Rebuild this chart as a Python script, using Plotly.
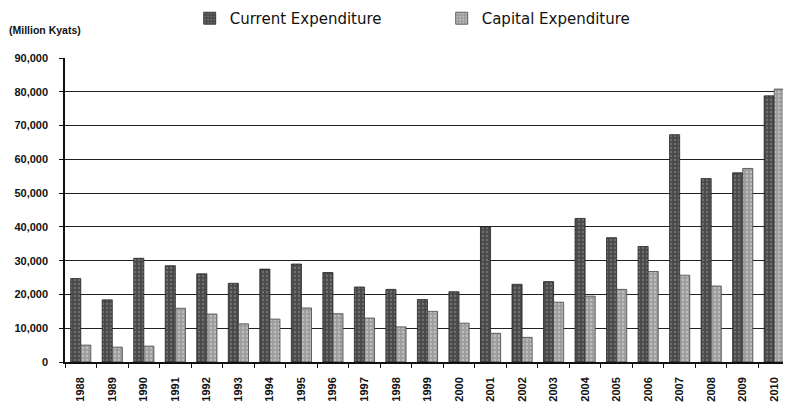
import plotly.graph_objects as go

years = [str(y) for y in range(1988, 2011)]
current_exp = [24700, 18400, 30700, 28500, 26100, 23300, 27500, 29000, 26500, 22200,
               21500, 18500, 20800, 40000, 23000, 23800, 42500, 36800, 34200, 67300,
               54300, 56000, 78800]
capital_exp = [5000, 4400, 4700, 15900, 14200, 11300, 12700, 16000, 14300, 13000,
               10400, 15000, 11500, 8500, 7300, 17700, 19500, 21500, 26800, 25700,
               22500, 57300, 80800]
y_ticks = [0, 10000, 20000, 30000, 40000, 50000, 60000, 70000, 80000, 90000]

fig = go.Figure()
fig.add_trace(go.Bar(
    x=years, y=current_exp, name="Current Expenditure",
    marker=dict(color="#4a4a4a", line=dict(color="#222", width=0.8),
                pattern=dict(shape=".", fgcolor="#9a9a9a", size=4, solidity=0.25)),
))
fig.add_trace(go.Bar(
    x=years, y=capital_exp, name="Capital Expenditure",
    marker=dict(color="#9c9c9c", line=dict(color="#444", width=0.8),
                pattern=dict(shape=".", fgcolor="#e0e0e0", size=4, solidity=0.3)),
))

fig.update_layout(
    width=791, height=409,
    margin=dict(l=57, r=9, t=50, b=55, autoexpand=False),
    paper_bgcolor="white", plot_bgcolor="white",
    barmode="group", bargap=0.36, bargroupgap=0.0,
    font=dict(family="Liberation Sans", color="#111"),
    legend=dict(orientation="h", x=0.172, xanchor="left", y=1.13, yref="paper",
                yanchor="middle", entrywidth=207,
                font=dict(family="DejaVu Sans", size=15, color="#111"),
                itemwidth=30),
    showlegend=True,
    annotations=[dict(text="<b>(Million Kyats)</b>", xref="paper", yref="paper",
                      x=-0.08, y=1.092, xanchor="left", yanchor="middle",
                      showarrow=False, font=dict(size=10.5, color="#111"))],
)

fig.update_xaxes(
    type="category", tickangle=-90, ticks="outside", tickson="boundaries",
    ticklen=4, tickcolor="#111", showline=True, linecolor="#111", linewidth=1.5,
    tickfont=dict(size=11, weight="bold", color="#111"), showgrid=False,
    ticklabelstandoff=9, automargin=False,
)
fig.update_yaxes(
    range=[0, 90000], tickvals=y_ticks, tickformat=",d", ticks="outside", ticklen=4,
    tickcolor="#111", showline=True, linecolor="#111", linewidth=1.5,
    showgrid=True, gridcolor="#222", gridwidth=1.2, ticklabelstandoff=9,
    tickfont=dict(size=11, weight="bold", color="#111"), zeroline=False,
    automargin=False,
)

fig.write_html("out.html")
